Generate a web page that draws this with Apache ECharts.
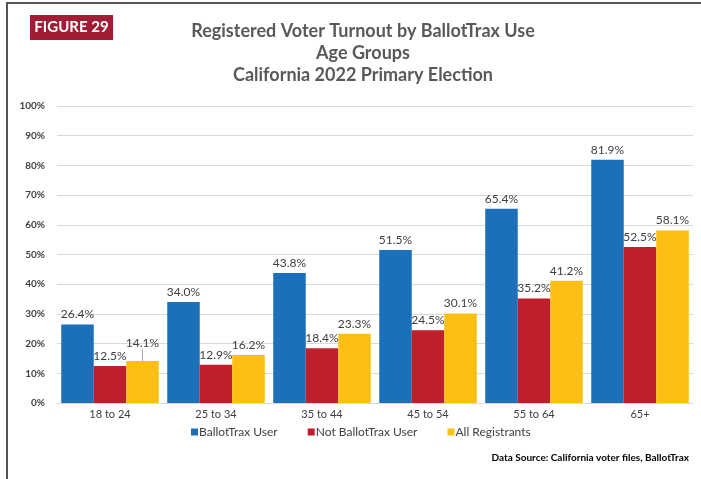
<!DOCTYPE html>
<html><head><meta charset="utf-8">
<script src="https://cdn.jsdelivr.net/npm/echarts@6/dist/echarts.min.js"></script>
<style>html,body{margin:0;padding:0;background:#fff}#c{width:701px;height:479px}</style>
</head><body><div id="c"></div>
<script>
var categories = ['18 to 24','25 to 34','35 to 44','45 to 54','55 to 64','65+'];
var ballotTraxUser = [26.4, 34.0, 43.8, 51.5, 65.4, 81.9];
var notBallotTraxUser = [12.5, 12.9, 18.4, 24.5, 35.2, 52.5];
var allRegistrants = [14.1, 16.2, 23.3, 30.1, 41.2, 58.1];
var seriesNames = ['BallotTrax User','Not BallotTrax User','All Registrants'];
var yTicks = [0,10,20,30,40,50,60,70,80,90,100];

var FONT = 'Lato, "Open Sans", sans-serif';
var chart = echarts.init(document.getElementById('c'), null, {renderer:'canvas'});
function lbl(){ return {show:true, position:'top', distance:4, formatter:function(p){return p.value.toFixed(1)+'%';}, color:'#404040', fontSize:12, fontFamily:FONT}; }
var yellowData = allRegistrants.map(function(v,i){
  return i===0 ? {value:v, labelLine:{show:true, lineStyle:{color:'#a6a6a6', width:1}}} : v;
});
var option = {
  animation:false,
  textStyle:{fontFamily:FONT},
  title:{text:'Registered Voter Turnout by BallotTrax Use\nAge Groups\nCalifornia 2022 Primary Election',
    left:358, top:15, textAlign:'center',
    textStyle:{fontSize:18, fontWeight:'bold', color:'#595959', lineHeight:22, fontFamily:FONT}},
  legend:{data:seriesNames, left:191, top:426, padding:0, itemWidth:7, itemHeight:7, itemGap:30, icon:'rect',
    textStyle:{fontSize:12, color:'#404040', fontFamily:FONT, padding:[0,0,0,-4]}},
  grid:{left:57, right:8, top:106, bottom:76},
  xAxis:{type:'category', data:categories, axisTick:{show:false},
    axisLine:{lineStyle:{color:'#d9d9d9', width:1}},
    axisLabel:{color:'#404040', fontSize:11, margin:6, fontFamily:FONT}},
  yAxis:{type:'value', min:0, max:100, interval:10,
    axisLabel:{formatter:function(v){return v+'%';}, color:'#404040', fontSize:10, fontWeight:'bold', margin:12, fontFamily:FONT},
    splitLine:{lineStyle:{color:'#d9d9d9', width:1}}, axisLine:{show:false}, axisTick:{show:false}},
  series:[
    {name:seriesNames[0], type:'bar', data:ballotTraxUser, barGap:'0%', barCategoryGap:'8%', itemStyle:{color:'#1B70B9'}, label:lbl()},
    {name:seriesNames[1], type:'bar', data:notBallotTraxUser, itemStyle:{color:'#BF1F2B'}, label:lbl()},
    {name:seriesNames[2], type:'bar', data:yellowData, itemStyle:{color:'#FDBF14'}, label:lbl(),
      labelLine:{show:false},
      labelLayout:function(p){ return p.dataIndex===0 ? {dy:-8} : {}; }}
  ],
  graphic:[
    {type:'rect', shape:{x:6, y:2, width:2, height:477}, style:{fill:'#555'}, silent:true},
    {type:'rect', shape:{x:6, y:2, width:695, height:2}, style:{fill:'#555'}, silent:true},
    {type:'rect', shape:{x:30, y:15, width:83, height:25}, style:{fill:'#A11D36'}},
    {type:'text', x:71.5, y:27.5, style:{text:'FIGURE 29', fill:'#fff', fontSize:15, fontWeight:'bold', fontFamily:FONT, align:'center', verticalAlign:'middle'}},
    {type:'text', x:689, y:458, style:{text:'Data Source: California voter files, BallotTrax', fill:'#000', fontSize:10, fontWeight:'bold', fontFamily:FONT, align:'right', verticalAlign:'middle'}}
  ]
};
chart.setOption(option);
</script></body></html>
